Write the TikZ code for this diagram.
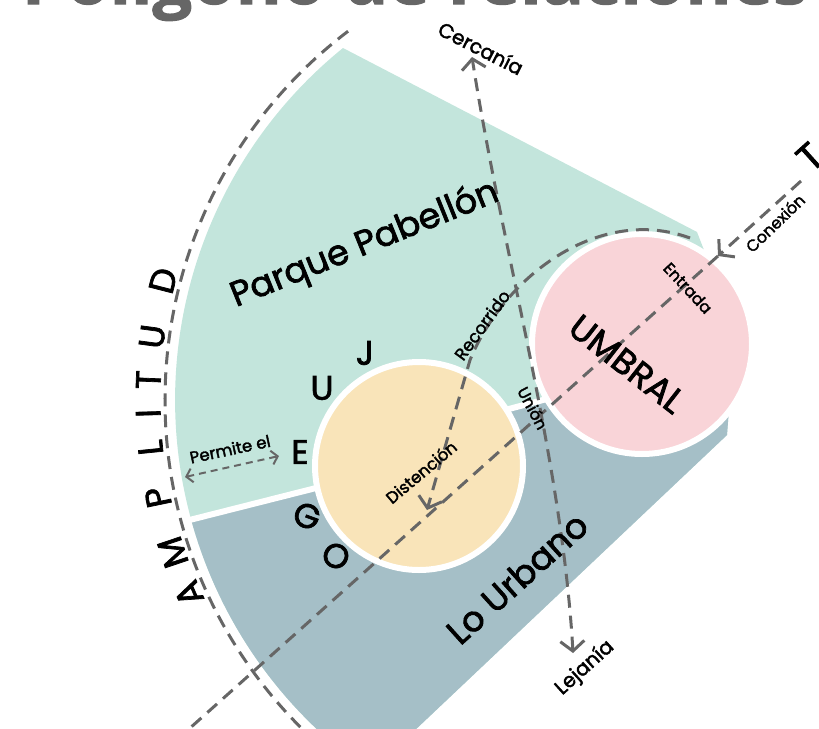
\documentclass[tikz,border=0pt]{standalone}
\usepackage{fontspec}
\usepackage{graphicx}
\setmainfont{Poppins}[FakeBold=2]
\newfontfamily\titlefont{Open Sans}[FakeBold=1.5]
\usetikzlibrary{arrows.meta,calc}
\definecolor{teal1}{RGB}{195,229,220}
\definecolor{slate1}{RGB}{165,191,199}
\definecolor{yel1}{RGB}{249,228,185}
\definecolor{pink1}{RGB}{249,212,216}
\definecolor{dgray}{RGB}{102,102,102}
\begin{document}
\begin{tikzpicture}[x=1pt,y=-1pt,
  dline/.style={draw=dgray, line width=3pt, dash pattern=on 13pt off 8pt},
  sline/.style={draw=dgray, line width=2pt, dash pattern=on 7pt off 5pt},
  arr/.style={-{Straight Barb[length=10pt,width=24pt]}},
  arrboth/.style={{Straight Barb[length=10pt,width=24pt]}-{Straight Barb[length=10pt,width=24pt]}},
  arrsmall/.style={{Straight Barb[length=6pt,width=14pt]}-{Straight Barb[length=6pt,width=14pt]}},
  lbl/.style={font=\fontsize{16}{19}\selectfont, inner sep=0pt},
  mid/.style={font=\fontsize{20}{24}\selectfont, inner sep=0pt},
  big/.style={font=\fontsize{35}{40}\selectfont, inner sep=0pt},
  ring/.style={circle, draw=white, line width=6pt, inner sep=0pt}
]
\useasboundingbox (0,0) rectangle (819,728);
\clip (0,0) rectangle (819,728);

% title
\node[anchor=base, inner sep=0pt, text=dgray] (title) at (415,4)
  {\resizebox{786pt}{!}{\titlefont\bfseries Polígono de relaciones}};

% fan
\coordinate (C) at (628,400);
\fill[teal1] (697,232) -- (343,48) arc[start angle=231, end angle=124.7, radius=453]
  -- (727,435) -- (735,330) -- cycle;
\begin{scope}
  \clip (697,232) -- (343,48) arc[start angle=231, end angle=124.7, radius=453]
    -- (727,435) -- (735,330) -- cycle;
  \fill[slate1] (150,530) -- (320,487) -- (505,410) -- (600,385) -- (800,400)
    -- (800,800) -- (150,800) -- cycle;
\end{scope}
\draw[white, line width=6pt] (150,530) -- (320,487) -- (505,410) -- (600,385);

% circles
\node[ring, fill=yel1, minimum size=208pt] (yc) at (419,466) {};
\node[ring, fill=pink1, minimum size=220pt] (pc) at (642,344) {};

% dashed outer arc
\draw[dline] (C) ++(232.8:463) arc[start angle=232.8, end angle=115, radius=463];

% connectors
\coordinate (conT) at (801,181);
\coordinate (entr) at (718,256);
\coordinate (conEnd) at (180,737);
\draw[dline, arr] (conT) -- (entr);
\draw[dline] (entr) -- (conEnd);

\coordinate (recS) at (690,238);
\coordinate (recB) at (470,360);
\coordinate (recE) at (427,510);
\draw[dline, arr] (recS) .. controls (600,205) and (505,275) .. (recB) -- (recE);

\coordinate (cerc) at (472,57);
\coordinate (lej) at (573,653);
\draw[dline, arrboth] (lej) .. controls (562,460) and (502,250) .. (cerc);

\coordinate (pL) at (185,477);
\coordinate (pR) at (279,456);
\draw[sline, arrsmall] (pL) -- (pR);

% labels
\node[big, rotate=22] (parque) at (365,245) {Parque Pabellón};
\node[big, rotate=42] (urbano) at (517,578) {Lo Urbano};
\node[big, rotate=-38] (umbral) at (627,364) {UMBRAL};
\node[mid, rotate=-27] (cercania) at (481,48) {Cercanía};
\node[mid, rotate=42] (lejania) at (585,668) {Lejanía};
\node[lbl, rotate=-47] (entrada) at (688,288) {Entrada};
\node[lbl, rotate=44] (conexion) at (775,223) {Conexión};
\node[lbl, font=\fontsize{17}{20}\selectfont, rotate=54] (recorrido) at (482,325) {Recorrido};
\node[lbl, rotate=-62] (union) at (533,408) {Unión};
\node[lbl, font=\fontsize{16.5}{20}\selectfont, rotate=40] (distencion) at (421,472) {Distención};
\node[lbl, font=\fontsize{16.5}{20}\selectfont, rotate=12] (permite) at (230,449) {Permite el};
\node[big, font=\fontsize{38}{40}\selectfont, rotate=42] (tletter) at (810,157) {T};

% JUEGO
\node[big, font=\fontsize{34}{40}\selectfont] (lJ) at (365,353) {J};
\node[big, font=\fontsize{34}{40}\selectfont] (lU) at (322,388) {U};
\node[big, font=\fontsize{34}{40}\selectfont] (lE) at (300,452) {E};
\node[big, font=\fontsize{34}{40}\selectfont, rotate=-20] (lG) at (307,516) {G};
\node[big, font=\fontsize{34}{40}\selectfont, rotate=-30] (lO) at (336,556) {O};

% AMPLITUD
\foreach \ch/\ang [count=\i] in {A/156.2, M/161.5, P/168.3, L/174.3, I/178.4, T/182.4, U/187.6, D/194.4}{
  \node[big, rotate={-\ang-90}] (amp\i) at ($(C)+(\ang:480)$) {\ch};
}
\end{tikzpicture}
\end{document}
